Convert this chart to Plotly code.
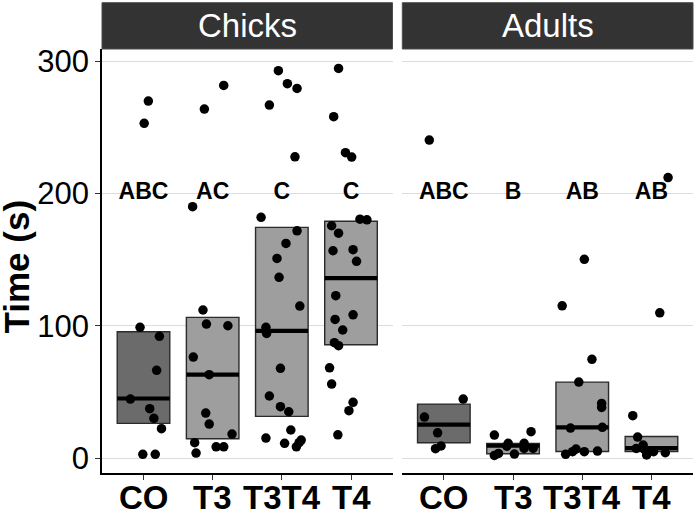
import plotly.graph_objects as go

# ---------------- data ----------------
categories = ["CO", "T3", "T3T4", "T4"]
groups = ["Chicks", "Adults"]

# crossbar summaries (lower, middle, upper)
chicks_lower = [26.2, 14.6, 31.5, 85.7]
chicks_middle = [45.0, 63.0, 96.2, 136.0]
chicks_upper = [95.5, 106.3, 174.4, 179.0]

adults_lower = [11.6, 3.2, 5.0, 5.0]
adults_middle = [25.2, 9.3, 23.2, 7.5]
adults_upper = [40.8, 11.1, 57.4, 16.3]

# significance letters
chicks_letters = ["ABC", "AC", "C", "C"]
adults_letters = ["ABC", "B", "AB", "AB"]
letter_y = 200

# individual observations (time) and their horizontal jitter (category units)
chicks_CO_time = [269.8, 253, 98.8, 92, 66.3, 44.6, 37.3, 30, 22.2, 2.8, 2.8]
chicks_CO_jitter = [0.07, 0.01, -0.05, 0.23, 0.19, -0.19, 0.09, 0.15, 0.26, -0.01, 0.17]

chicks_T3_time = [263.8, 281.7, 190, 111.9, 101.3, 100, 76.3, 63, 34, 25.7, 18.1, 11.6, 3.8, 8.5, 8.5]
chicks_T3_jitter = [-0.12, 0.16, -0.29, -0.14, -0.09, 0.22, -0.28, -0.05, -0.10, -0.05, 0.28, -0.26, -0.24, 0.05, 0.16]

chicks_T3T4_time = [292.8, 283, 279.4, 266.8, 227.7, 182, 171.8, 162.2, 150.9, 136.6, 114.9, 98.8,
                    94.2, 67.8, 46.9, 38.8, 35, 21.2, 15.1, 11.1, 8.5, 11.6, 13.6]
chicks_T3T4_jitter = [-0.05, 0.08, 0.22, -0.18, 0.19, -0.30, 0.22, 0.06, -0.07, -0.04, 0.26, -0.23,
                      -0.22, -0.02, -0.18, -0.02, 0.10, 0.13, -0.23, 0.04, 0.21, 0.25, 0.28]

chicks_T4_time = [294.5, 258, 230.8, 227.5, 175.6, 170, 180.6, 180.1, 156.7, 157.5, 148.7, 122.7,
                  108.3, 104.8, 96.8, 87.2, 84.9, 68.2, 55.9, 42.1, 35.8, 17.6]
chicks_T4_jitter = [-0.18, -0.25, -0.08, 0.01, -0.28, -0.18, 0.13, 0.23, -0.26, 0.03, 0.08, -0.22,
                    0.03, -0.23, -0.12, -0.24, -0.18, -0.31, -0.28, 0.03, -0.03, -0.19]

adults_CO_time = [240.4, 44.6, 31, 19.1, 9.1, 7.1]
adults_CO_jitter = [-0.21, 0.28, -0.28, -0.09, -0.04, -0.12]

adults_T3_time = [17.4, 19.9, 11.1, 11.1, 7.3, 7.3, 3.5, 2.0, 3.0, 9.0]
adults_T3_jitter = [-0.27, 0.26, -0.07, 0.16, 0.16, 0.29, -0.21, -0.27, 0.02, -0.09]

adults_T3T4_time = [150.2, 115.1, 74.6, 57.4, 41.3, 38.3, 22.7, 23.2, 6.8, 4.8, 2.8, 4.8, 5.3]
adults_T3T4_jitter = [0.03, -0.29, 0.14, -0.05, 0.28, 0.28, -0.17, 0.29, -0.09, -0.14, -0.24, 0.03, 0.22]

adults_T4_time = [212, 109.8, 32, 15.9, 9.8, 7.3, 2.3, 4.8, 4.0, 6.5]
adults_T4_jitter = [0.24, 0.12, -0.27, -0.20, -0.12, -0.22, -0.07, 0.03, 0.20, -0.10]

# ---------------- styling ----------------
FONT = "Liberation Sans, Arial, sans-serif"
box_colors = ["#6b6b6b", "#9e9e9e", "#9e9e9e", "#9e9e9e"]
box_width = 0.76

panels = [
    dict(xa="x", ya="y", lower=chicks_lower, middle=chicks_middle, upper=chicks_upper,
         letters=chicks_letters,
         times=[chicks_CO_time, chicks_T3_time, chicks_T3T4_time, chicks_T4_time],
         jit=[chicks_CO_jitter, chicks_T3_jitter, chicks_T3T4_jitter, chicks_T4_jitter]),
    dict(xa="x2", ya="y2", lower=adults_lower, middle=adults_middle, upper=adults_upper,
         letters=adults_letters,
         times=[adults_CO_time, adults_T3_time, adults_T3T4_time, adults_T4_time],
         jit=[adults_CO_jitter, adults_T3_jitter, adults_T3T4_jitter, adults_T4_jitter]),
]

fig = go.Figure()
pos = list(range(len(categories)))

for p in panels:
    # boxes (crossbars)
    fig.add_trace(go.Bar(
        x=pos, y=[u - l for u, l in zip(p["upper"], p["lower"])], base=p["lower"],
        width=box_width, marker=dict(color=box_colors, line=dict(color="#2b2b2b", width=1.4)),
        xaxis=p["xa"], yaxis=p["ya"], showlegend=False, hoverinfo="skip"))
    # middle lines
    mx, my = [], []
    for i, m in zip(pos, p["middle"]):
        mx += [i - box_width / 2, i + box_width / 2, None]
        my += [m, m, None]
    fig.add_trace(go.Scatter(x=mx, y=my, mode="lines", line=dict(color="black", width=4.2),
                             xaxis=p["xa"], yaxis=p["ya"], showlegend=False, hoverinfo="skip"))
    # points
    px, py = [], []
    for i, t, j in zip(pos, p["times"], p["jit"]):
        px += [i + d for d in j]
        py += t
    fig.add_trace(go.Scatter(x=px, y=py, mode="markers",
                             marker=dict(color="black", size=9.5, line=dict(width=0)),
                             xaxis=p["xa"], yaxis=p["ya"], showlegend=False))
    # letters
    fig.add_trace(go.Scatter(x=pos, y=[letter_y] * len(pos), mode="text", text=p["letters"],
                             textposition="middle center",
                             textfont=dict(family=FONT, size=23, color="black", weight="bold"),
                             xaxis=p["xa"], yaxis=p["ya"], showlegend=False, hoverinfo="skip"))

W, H = 694, 512
ml, mr, mt, mb = 102, 1, 49, 39
pw = W - ml - mr
ph = H - mt - mb
d1 = (0, 290.5 / pw)
d2 = (300.3 / pw, 1)

xcommon = dict(range=[-0.6, 3.6], tickvals=pos, showticklabels=False, showgrid=False, zeroline=False,
               ticks="outside", ticklen=5, tickwidth=1.2, tickcolor="#333333", automargin=False,
               showline=True, linecolor="black", linewidth=1.5, fixedrange=True)
ycommon = dict(range=[-11.3, 309.2], tickvals=[0, 100, 200, 300], showgrid=True, gridcolor="#dcdcdc",
               gridwidth=1.2, zeroline=False, fixedrange=True, automargin=False)

fig.update_layout(
    width=W, height=H, margin=dict(l=ml, r=mr, t=mt, b=mb, autoexpand=False),
    paper_bgcolor="white", plot_bgcolor="white", barmode="overlay",
    font=dict(family=FONT, color="black"),
    xaxis=dict(domain=list(d1), anchor="y", **xcommon),
    xaxis2=dict(domain=list(d2), anchor="y2", **xcommon),
    yaxis=dict(domain=[0, 1], anchor="x", showline=True, linecolor="black", linewidth=1.5,
               ticks="outside", ticklen=5, tickwidth=1.2, tickcolor="#333333",
               tickfont=dict(family=FONT, size=31, color="black"), **ycommon),
    yaxis2=dict(domain=[0, 1], anchor="x2", matches="y", showticklabels=False, showline=False,
                ticks="", **ycommon),
)

strip_h = 46.3 / ph
shapes = []
annotations = []
for g, d, xa in zip(groups, [d1, d2], ["x", "x2"]):
    shapes.append(dict(type="rect", xref="paper", yref="paper", x0=d[0], x1=d[1], y0=1, y1=1 + strip_h,
                       fillcolor="#333333", line=dict(color="#4d4d4d", width=1), layer="above"))
    annotations.append(dict(text=g, xref="paper", yref="paper", x=(d[0] + d[1]) / 2, y=1 + strip_h / 2,
                            xanchor="center", yanchor="middle", showarrow=False,
                            font=dict(family=FONT, size=33, color="white")))
    # category tick labels
    for i, c in zip(pos, categories):
        annotations.append(dict(text=c, xref=xa, yref="paper", x=i, y=-(497 - (H - mb)) / ph,
                                xanchor="center", yanchor="middle", showarrow=False,
                                font=dict(family=FONT, size=33, color="black", weight="bold")))
annotations.append(dict(text="Time (s)", xref="paper", yref="paper", x=-86 / pw, y=1 - (266.5 - mt) / ph,
                        xanchor="center", yanchor="middle", textangle=-90, showarrow=False,
                        font=dict(family=FONT, size=35, color="black", weight="bold")))
fig.update_layout(shapes=shapes, annotations=annotations)

fig.write_html("out.html")
